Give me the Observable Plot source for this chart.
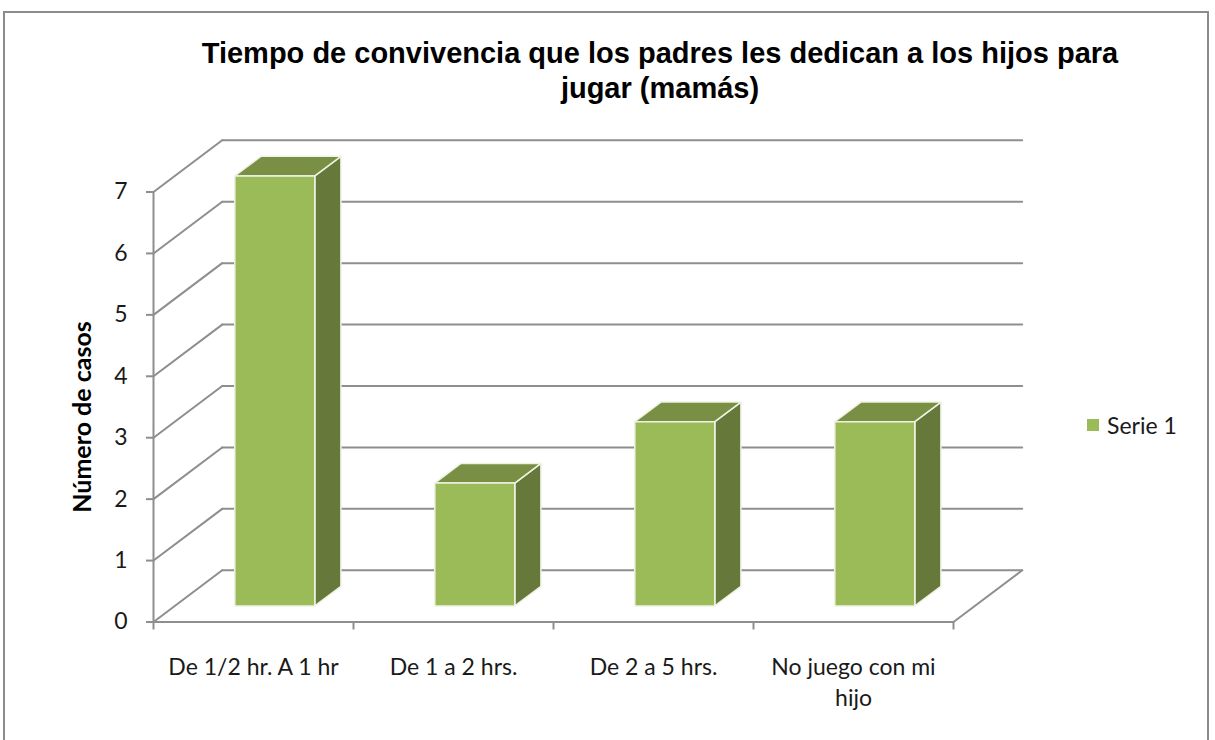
<!DOCTYPE html>
<html><head><meta charset="utf-8">
<script src="https://cdn.jsdelivr.net/npm/d3@7"></script>
<script src="https://cdn.jsdelivr.net/npm/@observablehq/plot@0.6"></script>
<style>
body{margin:0;background:#fff;}
#wrap{position:relative;width:1215px;height:740px;overflow:hidden;background:#fff;}
#frame{position:absolute;left:3px;top:11px;width:1206px;height:780px;border:2px solid #8c8c8c;box-sizing:border-box;}
#title{position:absolute;left:160px;width:1000px;top:36px;text-align:center;font-family:"Liberation Sans",Arial,sans-serif;font-weight:bold;font-size:29px;line-height:35px;color:#000;white-space:nowrap;}
#legend{position:absolute;left:1087px;top:411px;font-family:Lato,sans-serif;font-size:23px;color:#1a1a1a;display:flex;align-items:center;}
#legend span.sw{display:inline-block;width:12px;height:12px;background:#9BBB59;margin-right:8px;}
#chart{position:absolute;left:0;top:0;}
</style></head>
<body>
<div id="wrap">
  <div id="frame"></div>
  <div id="chart"></div>
  <div id="title">Tiempo de convivencia que los padres les dedican a los hijos para<br>jugar (mamás)</div>
  <div id="legend"><span class="sw"></span><span id="legtext"></span></div>
</div>
<script>
// ---- data ----
const categories = ["De 1/2 hr. A 1 hr", "De 1 a 2 hrs.", "De 2 a 5 hrs.", "No juego con mi\nhijo"];
const values = [7, 2, 3, 3];
const yTicks = [0, 1, 2, 3, 4, 5, 6, 7];
const seriesName = "Serie 1";
const yLabel = "Número de casos";

// ---- 3D oblique projection in data units ----
const DX = 0.3435, DY = 0.8416;
const P = (x, y, d, id) => ({x: x + DX * d, y: y + DY * d, id});
const BL = 0.3, BR = 0.7, D0 = 0.31, D1 = 0.69;

const fronts = [], sides = [], tops = [], shadows = [];
values.forEach((v, i) => {
  const L = i + BL, R = i + BR;
  fronts.push(P(L,0,D0,i), P(R,0,D0,i), P(R,v,D0,i), P(L,v,D0,i), P(L,0,D0,i));
  sides.push(P(R,0,D0,i), P(R,0,D1,i), P(R,v,D1,i), P(R,v,D0,i), P(R,0,D0,i));
  tops.push(P(L,v,D0,i), P(R,v,D0,i), P(R,v,D1,i), P(L,v,D1,i), P(L,v,D0,i));
  shadows.push(P(L-0.1,0,D0-0.04,i), P(R+0.06,0,D0-0.04,i), P(R+0.2,0,D1+0.02,i), P(L+0.05,0,D1+0.02,i), P(L-0.1,0,D0-0.04,i));
});

const gridBack = yTicks.flatMap(k => [P(0,k,1,k), P(4,k,1,k)]);
const gridDiag = yTicks.flatMap(k => [P(0,k,0,k), P(0,k,1,k)]);
const floorRight = [P(4,0,0,0), P(4,0,1,0)];

const GRID = "#8e8e8e";
const FONT = "Lato, sans-serif";
const barStroke = {stroke: "#eef3e4", strokeWidth: 1.5, strokeLinejoin: "round"};

const plot = Plot.plot({
  width: 1215, height: 740,
  marginLeft: 153, marginRight: 262, marginTop: 191.5, marginBottom: 118.5,
  x: {domain: [0, 4], axis: null},
  y: {domain: [0, 7], axis: null},
  style: {fontFamily: FONT, fontSize: "23px", color: "#1a1a1a", background: "transparent", overflow: "visible"},
  marks: [
    Plot.line(shadows, {x: "x", y: "y", z: "id", fill: "#6d6d6d", fillOpacity: 0.75, stroke: "none", ariaLabel: "shadow"}),
    Plot.line(gridBack, {x: "x", y: "y", z: "id", stroke: GRID, strokeWidth: 2}),
    Plot.line(gridDiag, {x: "x", y: "y", z: "id", stroke: GRID, strokeWidth: 2}),
    Plot.line(floorRight, {x: "x", y: "y", stroke: GRID, strokeWidth: 2}),
    Plot.ruleX([0], {y1: 0, y2: 7, stroke: GRID, strokeWidth: 2}),
    Plot.ruleY([0], {x1: 0, x2: 4, stroke: GRID, strokeWidth: 2}),
    Plot.axisY(yTicks, {tickSize: 7, tickPadding: 19, stroke: GRID, strokeWidth: 2, fill: "#1a1a1a", fontSize: 23, label: null, tickFormat: d => String(d)}),
    Plot.axisX([0, 1, 2, 3, 4], {tickSize: 8, tickPadding: 0, stroke: GRID, strokeWidth: 2, tickFormat: () => "", label: null}),
    Plot.text(categories, {x: (d, i) => i + 0.5, y: 0, text: d => d, lineAnchor: "top", dy: 31, lineHeight: 1.35, fontSize: 23, fill: "#1a1a1a"}),
    Plot.text([yLabel], {frameAnchor: "left", textAnchor: "middle", dx: -71, dy: 10, rotate: -90, text: d => d, fontWeight: "bold", fontSize: 25, letterSpacing: 1.2, fill: "#000"}),
    Plot.line(sides, {x: "x", y: "y", z: "id", fill: "#66793A", ...barStroke}),
    Plot.line(tops, {x: "x", y: "y", z: "id", fill: "#798F43", ...barStroke}),
    Plot.line(fronts, {x: "x", y: "y", z: "id", fill: "#9BBB59", ...barStroke})
  ]
});

// soft blur for the floor shadows
const ns = "http://www.w3.org/2000/svg";
const defs = document.createElementNS(ns, "defs");
defs.innerHTML = '<filter id="shblur" x="-50%" y="-50%" width="200%" height="200%"><feGaussianBlur stdDeviation="4"/></filter>';
plot.insertBefore(defs, plot.firstChild);
const sh = plot.querySelector('g[aria-label="shadow"]');
if (sh) sh.setAttribute("filter", "url(#shblur)");

document.getElementById("chart").appendChild(plot);
document.getElementById("legtext").textContent = seriesName;
</script>
</body></html>
